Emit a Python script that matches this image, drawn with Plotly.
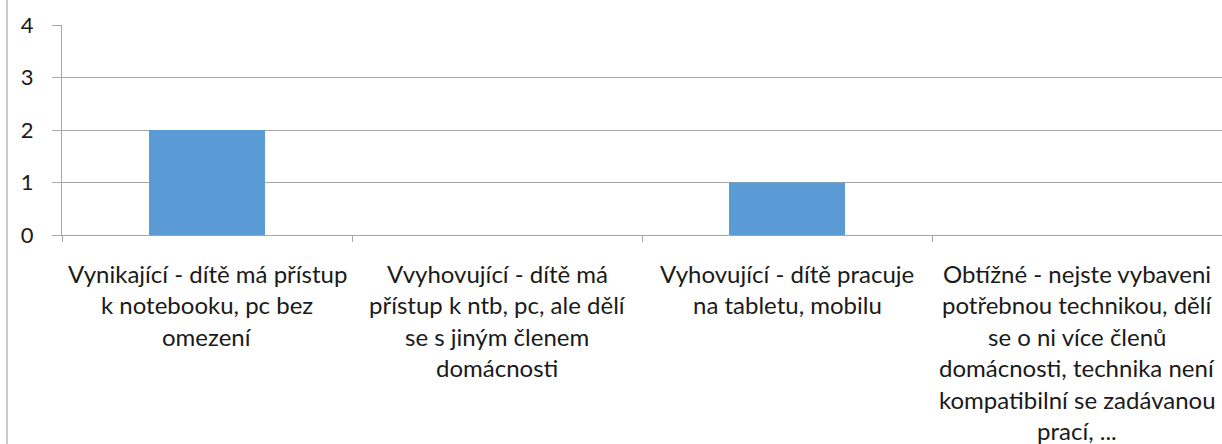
import plotly.graph_objects as go

categories = [
    "Vynikající - dítě má přístup<br>k notebooku, pc bez<br>omezení",
    "Vvyhovující - dítě má<br>přístup k ntb, pc, ale dělí<br>se s jiným členem<br>domácnosti",
    "Vyhovující - dítě pracuje<br>na tabletu, mobilu",
    "Obtížné - nejste vybaveni<br>potřebnou technikou, dělí<br>se o ni více členů<br>domácnosti, technika není<br>kompatibilní se zadávanou<br>prací, ...",
]
values = [2, 0, 1, 0]
y_ticks = [0, 1, 2, 3, 4]

W, H = 1222, 444
L, R, T, B = 62, 0, 25, 209
ph = H - T - B
pw = W - L - R

xs = list(range(len(categories)))
fig = go.Figure(go.Bar(x=xs, y=values, width=0.4, marker_color="#5b9bd5",
                       marker_line_width=0, hoverinfo="skip"))

font = "Lato"
grid = "#a6a6a6"
anns = []
for i, c in enumerate(categories):
    for j, line in enumerate(c.split("<br>")):
        anns.append(dict(x=i, y=0, xref="x", yref="y", text=line, showarrow=False,
                         xanchor="center", yanchor="middle", yshift=-38 - 31.5 * j,
                         font=dict(family=font, size=24, color="#1a1a1a")))

fig.update_layout(
    width=W, height=H, margin=dict(l=L, r=R, t=T, b=B),
    plot_bgcolor="white", paper_bgcolor="white", showlegend=False,
    xaxis=dict(range=[-0.5, len(categories) - 0.5], showgrid=False, zeroline=False,
               showline=True, linecolor=grid, linewidth=1,
               tickvals=[k - 0.5 for k in range(len(categories))], ticktext=[""] * len(categories),
               ticks="outside", ticklen=6, tickcolor=grid, fixedrange=True),
    yaxis=dict(range=[0, 4], tickvals=y_ticks, showgrid=True, gridcolor=grid, gridwidth=1,
               zeroline=False, showline=True, linecolor=grid, linewidth=1,
               ticks="outside", ticklen=9, tickcolor=grid, ticklabelstandoff=14,
               tickfont=dict(family=font, size=22, color="#1a1a1a"), fixedrange=True),
    annotations=anns,
    shapes=[dict(type="line", xref="paper", yref="paper",
                 x0=(7 - L) / pw, x1=(7 - L) / pw,
                 y0=-(B) / ph, y1=(H - B) / ph,
                 line=dict(color="#999999", width=1))],
)
fig.write_html("out.html", config={"displayModeBar": False},
               post_script="document.body.style.margin='0';document.body.style.overflow='hidden';")
